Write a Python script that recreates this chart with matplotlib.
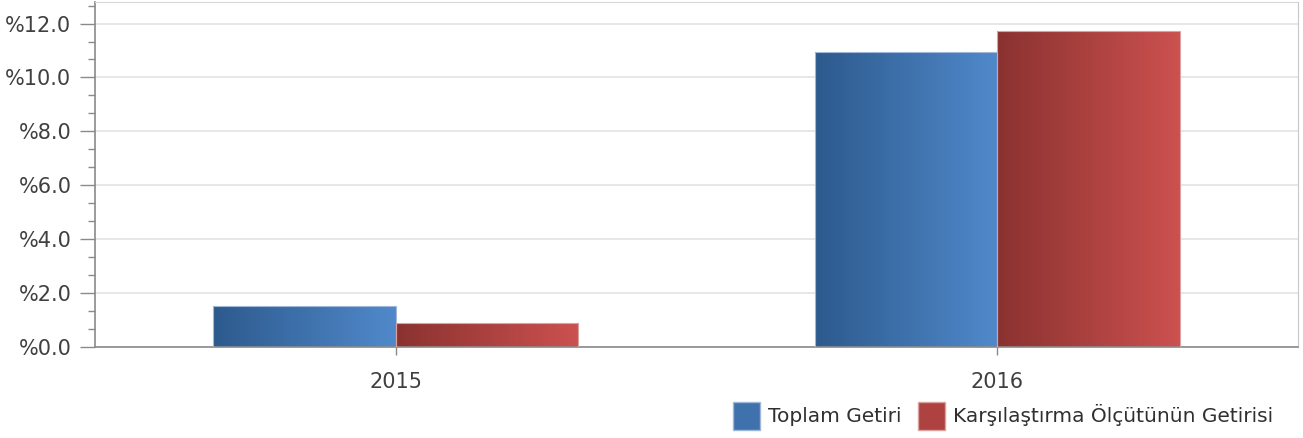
import numpy as np
import matplotlib
matplotlib.use("Agg")
import matplotlib.pyplot as plt
from matplotlib.colors import LinearSegmentedColormap
from matplotlib.ticker import MultipleLocator, FuncFormatter
from matplotlib.patches import Patch

# data
years = ["2015", "2016"]
toplam = [1.50, 10.96]
karsilastirma = [0.87, 11.73]
series_names = ["Toplam Getiri", "Karşılaştırma Ölçütünün Getirisi"]

blue_dark, blue_light = "#2d5a8d", "#5089cb"
red_dark, red_light = "#8a3230", "#cc514f"

fig = plt.figure(figsize=(13.03, 4.38), dpi=100)
ax = fig.add_axes([0.0729, 0.2084, 0.9233, 0.787])

x = np.arange(len(years))
w = 0.303


def gradient_bars(bars, c0, c1):
    cmap = LinearSegmentedColormap.from_list("g", [c0, c1])
    grad = np.linspace(0, 1, 256).reshape(1, -1)
    for b in bars:
        x0, y0 = b.get_x(), b.get_y()
        im = ax.imshow(grad, cmap=cmap, aspect="auto", interpolation="bicubic",
                       extent=(x0, x0 + b.get_width(), y0, y0 + b.get_height()),
                       zorder=2)
        im.set_clip_path(b)


b1 = ax.bar(x - w / 2, toplam, w, color="none", edgecolor="#9fb8d8",
            linewidth=0.8, zorder=3)
b2 = ax.bar(x + w / 2, karsilastirma, w, color="none", edgecolor="#d9a3a2",
            linewidth=0.8, zorder=3)
gradient_bars(b1, blue_dark, blue_light)
gradient_bars(b2, red_dark, red_light)

ax.set_xlim(-0.5, 1.5)
ax.set_ylim(0, 12.8)
ax.yaxis.set_major_locator(MultipleLocator(2))
ax.yaxis.set_minor_locator(MultipleLocator(2 / 3))
ax.yaxis.set_major_formatter(FuncFormatter(lambda v, p: "%{:.1f}".format(v)))
ax.set_xticks(x)
ax.set_xticklabels(years)

ax.grid(axis="y", which="major", color="#e3e3e3", linewidth=1.2, zorder=0)
ax.set_axisbelow(True)

ax.tick_params(axis="y", which="major", length=11, width=1, color="#8a8a8a",
               labelsize=15, labelcolor="#404040", pad=6)
ax.tick_params(axis="y", which="minor", length=5, width=1, color="#8a8a8a")
ax.tick_params(axis="x", length=6, width=1, color="#8a8a8a",
               labelsize=15, labelcolor="#404040", pad=12)

for s in ["left", "bottom"]:
    ax.spines[s].set_color("#8a8a8a")
    ax.spines[s].set_linewidth(1.2)
ax.spines["right"].set_color("#c8c8c8")
ax.spines["top"].set_color("#d8d8d8")
ax.spines["top"].set_linestyle((0, (2, 1)))

handles = [Patch(facecolor="#3f72ad", edgecolor="#9fb8d8"),
           Patch(facecolor="#ad4240", edgecolor="#d9a3a2")]
fig.legend(handles, series_names, loc="lower right",
           bbox_to_anchor=(0.991, -0.022), ncol=2, frameon=False,
           fontsize=14.5, labelcolor="#303030", handlelength=1.35,
           handleheight=1.75, handletextpad=0.4, columnspacing=0.8)

fig.savefig("out.png", dpi=100)
